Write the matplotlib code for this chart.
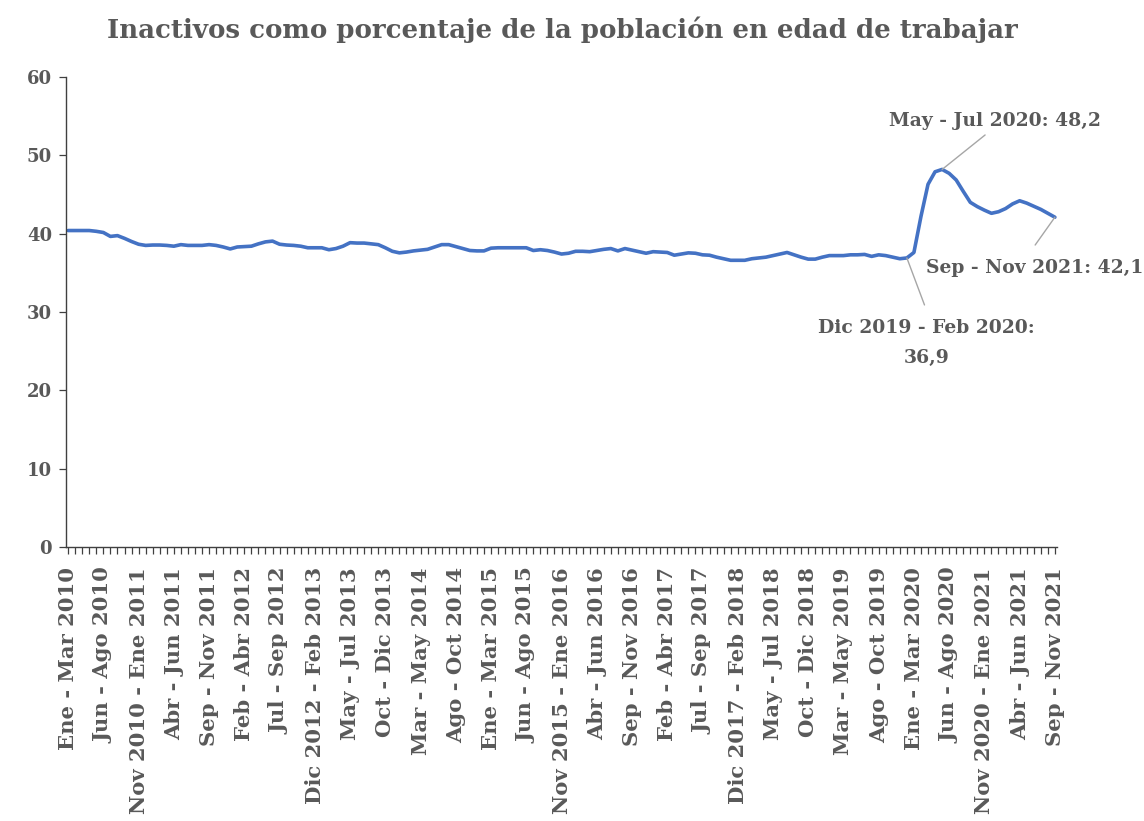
import matplotlib
matplotlib.use("Agg")
import matplotlib.pyplot as plt
import numpy as np

months = ["Ene", "Feb", "Mar", "Abr", "May", "Jun", "Jul", "Ago", "Sep", "Oct", "Nov", "Dic"]

values = [
    40.4, 40.4, 40.4, 40.4, 40.3, 40.15, 39.65, 39.75, 39.4, 39.0,
    38.65, 38.5, 38.55, 38.55, 38.5, 38.4, 38.6, 38.5, 38.5, 38.5,
    38.6, 38.5, 38.3, 38.05, 38.3, 38.35, 38.4, 38.7, 38.95, 39.05,
    38.65, 38.55, 38.5, 38.4, 38.2, 38.2, 38.2, 37.95, 38.1, 38.4,
    38.85, 38.8, 38.8, 38.7, 38.6, 38.2, 37.75, 37.55, 37.65, 37.8,
    37.9, 38.0, 38.3, 38.6, 38.6, 38.35, 38.1, 37.85, 37.8, 37.8,
    38.15, 38.2, 38.2, 38.2, 38.2, 38.2, 37.85, 37.95, 37.85, 37.65,
    37.4, 37.5, 37.75, 37.75, 37.7, 37.85, 38.0, 38.1, 37.8, 38.1,
    37.9, 37.7, 37.5, 37.7, 37.65, 37.6, 37.25, 37.4, 37.55, 37.5,
    37.3, 37.25, 37.0, 36.8, 36.6, 36.6, 36.6, 36.8, 36.9, 37.0,
    37.2, 37.4, 37.6, 37.3, 37.0, 36.75, 36.75, 37.0, 37.2, 37.2,
    37.2, 37.3, 37.3, 37.35, 37.1, 37.3, 37.2, 37.0, 36.8, 36.9,
    37.6, 42.2, 46.3, 47.9, 48.2, 47.7, 46.85, 45.4, 44.0, 43.45,
    43.0, 42.6, 42.8, 43.2, 43.8, 44.2, 43.9, 43.5, 43.1, 42.6,
    42.1,
]

# period labels: three-month rolling windows starting Jan 2010
labels = []
for k in range(len(values)):
    s = k
    e = k + 2
    sy, sm = 2010 + s // 12, s % 12
    ey, em = 2010 + e // 12, e % 12
    if sy == ey:
        labels.append(f"{months[sm]} - {months[em]} {ey}")
    else:
        labels.append(f"{months[sm]} {sy} - {months[em]} {ey}")

title = "Inactivos como porcentaje de la población en edad de trabajar"
yticks = [0, 10, 20, 30, 40, 50, 60]

grey = "#595959"
plt.rcParams["font.family"] = ["DejaVu Serif"]
plt.rcParams["font.weight"] = "bold"

fig = plt.figure(figsize=(11.44, 8.21), dpi=100)
ax = fig.add_axes([66 / 1144, 1 - 547 / 821, (1057 - 66) / 1144, 470 / 821])

x = np.arange(len(values))
ax.plot(x, values, color="#4472C4", lw=2.6, solid_joinstyle="round", solid_capstyle="round")

ax.set_xlim(-0.3, 140.3)
ax.set_ylim(0, 60)
ax.set_yticks(yticks)
ax.set_yticklabels([str(v) for v in yticks], color=grey, fontsize=13, fontweight="bold")

ax.set_xticks(x)
ax.set_xticklabels([lab if i % 5 == 0 else "" for i, lab in enumerate(labels)],
                   rotation=90, color=grey, fontsize=15.2, fontweight="bold")

for s in ["top", "right"]:
    ax.spines[s].set_visible(False)
for s in ["left", "bottom"]:
    ax.spines[s].set_color("#404040")
    ax.spines[s].set_linewidth(1.0)
ax.tick_params(axis="both", direction="out", length=5, width=0.9, color="#404040")
ax.tick_params(axis="x", pad=9.5)
ax.tick_params(axis="y", pad=5)

fig.text(562 / 1144, 1 - 30 / 821, title, ha="center", va="center",
         fontsize=18.7, color=grey, fontweight="bold")

# annotations
lead = "#A6A6A6"
fmt = lambda v: str(v).replace(".", ",")

i_peak = 124
ax.text(131.5, 54.4, f"{labels[i_peak]}: {fmt(values[i_peak])}",
        ha="center", va="center", fontsize=13.5, color=grey, fontweight="bold")
ax.annotate("", xy=(x[i_peak], values[i_peak]), xytext=(130.1, 52.6),
            arrowprops=dict(arrowstyle="-", color=lead, lw=1.0, shrinkA=0, shrinkB=0))

i_last = 140
ax.text(137.2, 35.6, f"{labels[i_last]}: {fmt(values[i_last])}",
        ha="center", va="center", fontsize=13.5, color=grey, fontweight="bold",
        clip_on=False)
ax.annotate("", xy=(x[i_last], values[i_last]), xytext=(137.2, 38.55),
            arrowprops=dict(arrowstyle="-", color=lead, lw=1.0, shrinkA=0, shrinkB=0))

i_min = 119
ax.text(121.8, 26.0, f"{labels[i_min]}:\n{fmt(values[i_min])}",
        ha="center", va="center", fontsize=13.5, color=grey, linespacing=1.85,
        fontweight="bold")
ax.annotate("", xy=(x[i_min], values[i_min]), xytext=(121.5, 30.9),
            arrowprops=dict(arrowstyle="-", color=lead, lw=1.0, shrinkA=0, shrinkB=0))

fig.savefig("out.png", dpi=100)
